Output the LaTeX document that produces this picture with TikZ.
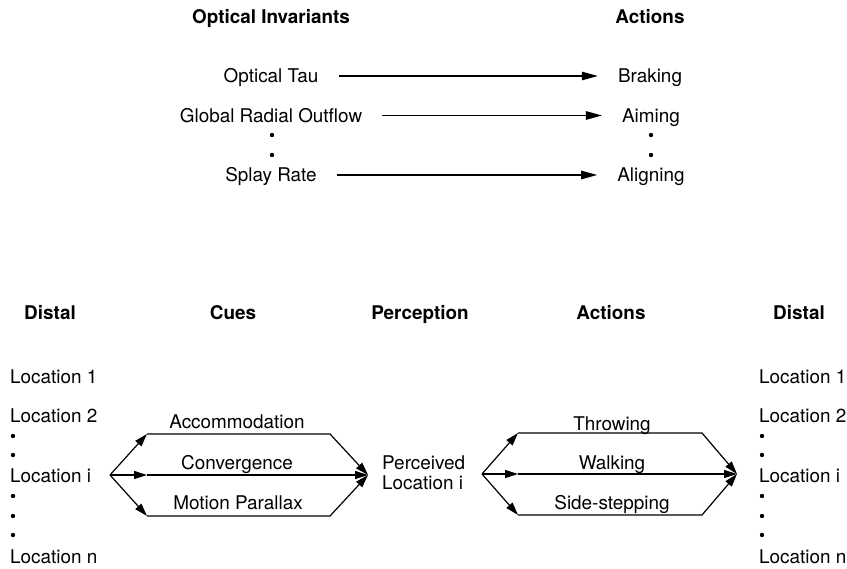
\documentclass[tikz,border=0pt]{standalone}
\usepackage{fontspec}
\setmainfont{TeX Gyre Heros}
\usetikzlibrary{arrows.meta}

\tikzset{
  txt/.style={font=\fontsize{18.9}{20}\selectfont, inner sep=0pt},
  lbl/.style={txt, text height=13.6pt, text depth=0pt},
  head/.style={lbl, font=\fontsize{18.9}{20}\selectfont\bfseries},
  inv/.style={lbl, inner xsep=20pt},
  loc/.style={lbl, anchor=west},
  arr/.style={line width=1.2pt, -{Triangle[length=16pt,width=8.5pt]}},
  cue/.style={line width=1.2pt, line join=miter, -{Triangle[length=13pt,width=8pt]}},
}

\begin{document}
\begin{tikzpicture}[x=1pt,y=-1pt]
  \useasboundingbox (0,0) rectangle (847,569);

  % invariants -> actions
  \node[head] (invh) at (271,17) {Optical Invariants};
  \node[head] (acth) at (650,17) {Actions};
  \node[inv] (tau) at (271,76) {Optical Tau};
  \node[inv] (flow) at (271,115.5) {Global Radial Outflow};
  \node[inv] (splay) at (271,175) {Splay Rate};
  \node[inv] (brake) at (650,76) {Braking};
  \node[inv] (aim) at (651,115.5) {Aiming};
  \node[inv] (align) at (651,175) {Aligning};
  \draw[arr] (tau.east) -- (brake.west);
  \draw[arr] (flow.east) -- (aim.west);
  \draw[arr] (splay.east) -- (align.west);
  \foreach \y in {135,155} {
    \fill (272,\y) circle (2.2pt);
    \fill (651,\y) circle (2.2pt);
  }

  % distal -> cues -> perception -> actions -> distal
  \node[head] (distl) at (50,313) {Distal};
  \node[head] (cues) at (233,313) {Cues};
  \node[head] (perh) at (420,313) {Perception};
  \node[head] (acts) at (611,313) {Actions};
  \node[head] (distr) at (799,313) {Distal};

  \node[loc] (la1) at (10,377) {Location 1};
  \node[loc] (la2) at (10,416) {Location 2};
  \node[loc] (lai) at (10,476) {Location i};
  \node[loc] (lan) at (10,557) {Location n};
  \node[loc] (lb1) at (759,377) {Location 1};
  \node[loc] (lb2) at (759,416) {Location 2};
  \node[loc] (lbi) at (759,476) {Location i};
  \node[loc] (lbn) at (759,557) {Location n};
  \foreach \y in {436,455,496,516,535} {
    \fill (13,\y) circle (2.2pt);
    \fill (762,\y) circle (2.2pt);
  }

  \node[txt, align=left, anchor=west] (perc) at (382,473) {Perceived\\Location i};

  % cues
  \coordinate (cL) at (110,475);
  \coordinate (cTL) at (147,434);
  \coordinate (cTR) at (330,434);
  \coordinate (cML) at (147,475);
  \coordinate (cBL) at (147,516);
  \coordinate (cBR) at (330,516);
  \coordinate (cR) at (368,475);
  \draw[cue] (cL) -- (cTL);
  \draw[cue] (cTL) -- (cTR) -- (cR);
  \draw[cue] (cL) -- (cML);
  \draw[cue] (cML) -- (cR);
  \draw[cue] (cL) -- (cBL);
  \draw[cue] (cBL) -- (cBR) -- (cR);
  \node[lbl] (acc) at (237,422) {Accommodation};
  \node[lbl] (conv) at (237,463) {Convergence};
  \node[lbl] (motion) at (238,503) {Motion Parallax};

  % actions
  \coordinate (aL) at (482,474);
  \coordinate (aTL) at (518,433);
  \coordinate (aTR) at (702,433);
  \coordinate (aML) at (518,474);
  \coordinate (aBL) at (518,515);
  \coordinate (aBR) at (702,515);
  \coordinate (aR) at (737,474);
  \draw[cue] (aL) -- (aTL);
  \draw[cue] (aTL) -- (aTR) -- (aR);
  \draw[cue] (aL) -- (aML);
  \draw[cue] (aML) -- (aR);
  \draw[cue] (aL) -- (aBL);
  \draw[cue] (aBL) -- (aBR) -- (aR);
  \node[lbl] (throw) at (612,424) {Throwing};
  \node[lbl] (walk) at (612,463) {Walking};
  \node[lbl] (side) at (612,503) {Side-stepping};
\end{tikzpicture}
\end{document}
